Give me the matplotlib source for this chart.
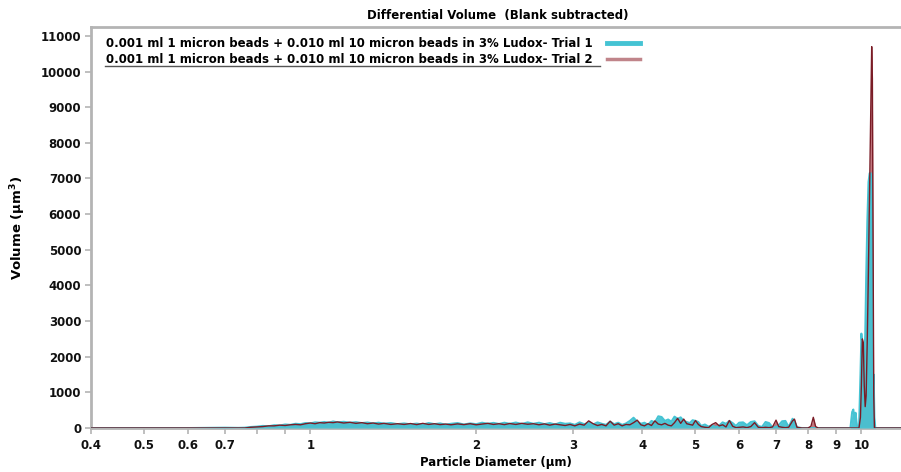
import matplotlib
matplotlib.use("Agg")
import matplotlib.pyplot as plt
from matplotlib.lines import Line2D
from matplotlib.ticker import FixedLocator, NullFormatter, NullLocator

plt.rcParams['font.family'] = ['DejaVu Sans']
plt.rcParams['font.weight'] = 'bold'

title = "Differential Volume  (Blank subtracted)"
label1 = "0.001 ml 1 micron beads + 0.010 ml 10 micron beads in 3% Ludox- Trial 1"
label2 = "0.001 ml 1 micron beads + 0.010 ml 10 micron beads in 3% Ludox- Trial 2"

diam = [0.40, 0.50, 0.60, 0.70, 0.74, 0.76, 0.78, 0.80, 0.82, 0.84, 0.86, 0.88, 0.90,
        0.92, 0.94, 0.96, 0.98, 1.00, 1.02, 1.04, 1.06, 1.08, 1.10, 1.12, 1.15, 1.18,
        1.21, 1.24, 1.27, 1.30, 1.33, 1.36, 1.40, 1.44, 1.48, 1.52, 1.56, 1.60, 1.64,
        1.68, 1.72, 1.76, 1.80, 1.85, 1.90, 1.95, 2.00, 2.05, 2.10, 2.15, 2.20, 2.25,
        2.30, 2.36, 2.42, 2.48, 2.54, 2.60, 2.66, 2.72, 2.78, 2.84, 2.90, 2.96, 3.02,
        3.08, 3.14, 3.20, 3.26, 3.32, 3.38, 3.44, 3.50, 3.56, 3.62, 3.68, 3.74, 3.80,
        3.86, 3.92, 3.98, 4.04, 4.10, 4.16, 4.22, 4.28, 4.34, 4.40, 4.46, 4.52, 4.58,
        4.64, 4.70, 4.76, 4.82, 4.88, 4.94, 5.00, 5.06, 5.12, 5.20, 5.28, 5.36, 5.44,
        5.52, 5.60, 5.68, 5.76, 5.84, 5.92, 6.00, 6.10, 6.20, 6.30, 6.40, 6.50, 6.60,
        6.70, 6.80, 6.90, 7.00, 7.08, 7.18, 7.28, 7.38, 7.50, 7.56, 7.64, 7.80, 8.00,
        8.10, 8.18, 8.26, 8.35, 9.55, 9.62, 9.67, 9.72, 9.76, 9.82, 9.90, 9.96, 10.00,
        10.04, 10.08, 10.12, 10.16, 10.20, 10.25, 10.30, 10.35, 10.40, 10.44, 10.47,
        10.50, 10.53, 10.56, 10.60, 11.80]

trial1 = [0, 0, 0, 10, 5, 10, 30, 40, 60, 50, 80, 70, 100,
          90, 120, 110, 140, 130, 160, 150, 170, 150, 185, 160, 175, 150,
          165, 140, 155, 130, 150, 125, 140, 110, 130, 105, 125, 100, 140,
          110, 130, 95, 120, 140, 100, 130, 110, 150, 120, 145, 115, 150,
          120, 155, 115, 160, 120, 150, 110, 140, 100, 150, 120, 130, 90,
          160, 110, 140, 100, 160, 120, 90, 180, 110, 150, 90, 130, 200,
          290, 180, 120, 150, 90, 200, 160, 330, 310, 200, 240, 180, 320,
          260, 300, 200, 170, 140, 220, 200, 170, 60, 100, 40, 80, 20,
          70, 160, 120, 200, 140, 60, 150, 160, 80, 170, 190, 60, 30,
          170, 140, 20, 30, 80, 190, 200, 30, 260, 200, 20, 0, 0,
          0, 0, 0, 0, 0, 450, 520, 250, 430, 50, 20, 1500, 2650,
          2300, 1400, 2000, 2600, 4200, 5800, 6900, 7150, 7150, 7000, 3500,
          1200, 1500, 300, 0, 0]

trial2 = [0, 0, 0, 0, 0, 0, 20, 30, 40, 60, 60, 80, 70,
          90, 100, 90, 120, 140, 120, 150, 140, 160, 150, 170, 140, 160,
          130, 150, 120, 140, 110, 130, 100, 120, 100, 125, 95, 130, 100,
          120, 95, 110, 90, 115, 95, 120, 90, 110, 130, 100, 120, 95,
          125, 100, 130, 105, 120, 90, 115, 80, 110, 90, 70, 100, 60,
          110, 80, 200, 120, 70, 100, 60, 190, 80, 120, 60, 100, 90,
          150, 220, 90, 60, 120, 70, 200, 110, 90, 130, 80, 60, 150,
          270, 130, 250, 120, 100, 80, 210, 100, 40, 20, 10, 100, 150,
          60, 90, 30, 210, 50, 10, 20, 30, 10, 40, 150, 20, 10,
          20, 10, 30, 220, 40, 20, 10, 20, 200, 250, 20, 0, 0,
          50, 300, 40, 0, 0, 0, 0, 0, 0, 0, 0, 300, 1200,
          2500, 2400, 1200, 600, 900, 2500, 4500, 6800, 9200, 10700, 9800,
          5000, 900, 0, 0, 0]

xticks = [0.4, 0.5, 0.6, 0.7, 0.8, 0.9, 1, 2, 3, 4, 5, 6, 7, 8, 9, 10]
xticklabels = ["0.4", "0.5", "0.6", "0.7", "", "", "1", "2", "3", "4", "5", "6", "7", "8", "9", "10"]
yticks = [0, 1000, 2000, 3000, 4000, 5000, 6000, 7000, 8000, 9000, 10000, 11000]

cyan = '#45C3D3'
red_fill = '#C2767E'
red_line = '#7A1C26'
red_swatch = '#C0848A'
gray = '#B4B4B4'

fig = plt.figure(figsize=(9.01, 4.72), dpi=100)
ax = fig.add_axes([91 / 901, 44 / 472, 810 / 901, 401 / 472])

ax.fill_between(diam, trial2, 0, color=red_fill, lw=0, zorder=2)
ax.fill_between(diam, trial1, 0, color=cyan, lw=0, alpha=0.95, zorder=3)
ax.plot(diam, trial1, color=cyan, lw=1.4, zorder=4)
ax.plot(diam, trial2, color=red_line, lw=1.0, zorder=5)

ax.set_xscale('log')
ax.set_xlim(0.4, 11.8)
ax.set_ylim(0, 11250)
ax.xaxis.set_major_locator(FixedLocator(xticks))
ax.set_xticklabels(xticklabels)
ax.xaxis.set_minor_locator(NullLocator())
ax.xaxis.set_minor_formatter(NullFormatter())
ax.set_yticks(yticks)
ax.set_yticklabels([str(v) for v in yticks])

ax.spines['right'].set_visible(False)
for side in ['left', 'top', 'bottom']:
    ax.spines[side].set_color(gray)
    ax.spines[side].set_linewidth(2)

ax.tick_params(axis='both', colors=gray, length=4, width=1.2, labelsize=8.5,
               labelcolor='#111111')
ax.tick_params(axis='x', pad=4)
ax.tick_params(axis='y', pad=3)
for lbl in ax.get_xticklabels() + ax.get_yticklabels():
    lbl.set_fontweight('bold')

ax.set_xlabel("Particle Diameter (µm)", fontsize=8.5, fontweight='bold', labelpad=3)
ax.set_ylabel("Volume (µm$^3$)", fontsize=9.5, fontweight='bold', labelpad=9)

fig.text(498 / 901, 1 - 16 / 472, title, ha='center', va='center',
         fontsize=8.5, fontweight='bold')

handles = [Line2D([], [], color=cyan, lw=3.5), Line2D([], [], color=red_swatch, lw=2.5)]
leg = ax.legend(handles, [label1, label2], loc='upper left',
                bbox_to_anchor=(8 / 810, 1 - 3 / 401), markerfirst=False, frameon=False,
                prop={'size': 8.5, 'weight': 'bold'}, handlelength=2.8, handletextpad=1.2,
                labelspacing=0.25, borderaxespad=0.2)

fig.add_artist(Line2D([105 / 901, 600 / 901], [1 - 66 / 472] * 2, color='#555555', lw=1.0))

fig.savefig("out.png", dpi=100)
